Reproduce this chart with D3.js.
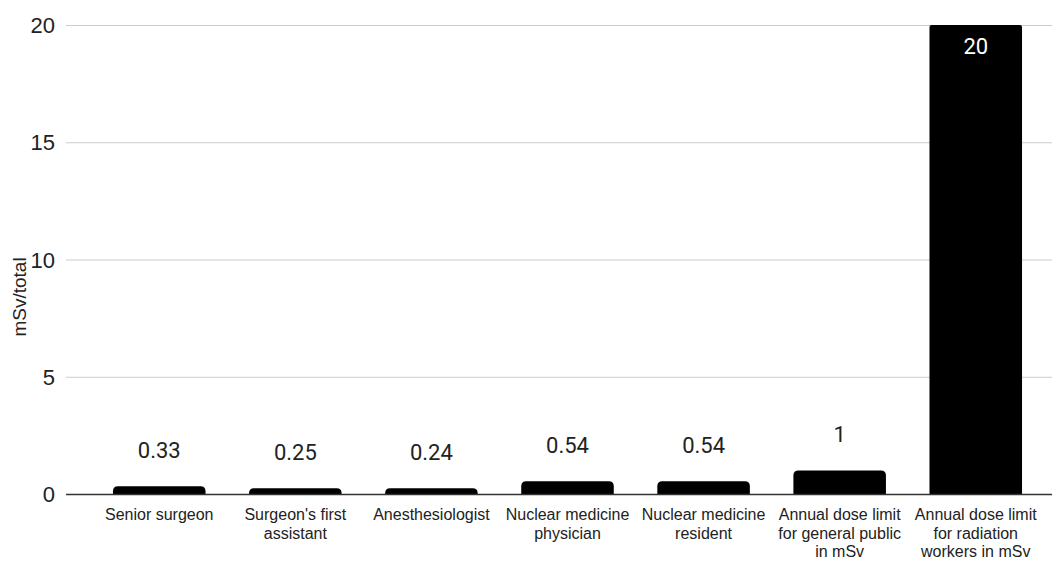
<!DOCTYPE html>
<html><head><meta charset="utf-8">
<script src="https://cdn.jsdelivr.net/npm/d3@7"></script>
<style>body{margin:0;background:#fff}svg{display:block}</style>
</head><body>
<script>
const categories = [
  ["Senior surgeon"],
  ["Surgeon's first", "assistant"],
  ["Anesthesiologist"],
  ["Nuclear medicine", "physician"],
  ["Nuclear medicine", "resident"],
  ["Annual dose limit", "for general public", "in mSv"],
  ["Annual dose limit", "for radiation", "workers in mSv"]
];
const values = [0.33, 0.25, 0.24, 0.54, 0.54, 1, 20];
const valueLabels = ["0.33", "0.25", "0.24", "0.54", "0.54", "1", "20"];
const yTicks = [0, 5, 10, 15, 20];
const yTitle = "mSv/total";

const W = 1052, H = 561;
const svg = d3.select("body").append("svg").attr("width", W).attr("height", H);

const y = d3.scaleLinear().domain([0, 20]).range([494, 25]);
const x = d3.scaleBand().domain(d3.range(categories.length))
  .range([91.2, 1043.8]).paddingInner(0.32).paddingOuter(0.16);

// gridlines
svg.append("g").selectAll("line").data(yTicks.filter(d => d !== 0)).join("line")
  .attr("x1", 66).attr("x2", 1052)
  .attr("y1", d => y(d) + 0.5).attr("y2", d => y(d) + 0.5)
  .attr("stroke", "#cccccc").attr("stroke-width", 1);

// tick labels
svg.append("g").selectAll("text").data(yTicks).join("text")
  .attr("x", 55).attr("y", d => y(d) + 8)
  .attr("text-anchor", "end")
  .attr("font-family", "Liberation Sans, Arial, sans-serif")
  .attr("font-size", 22).attr("fill", "#222")
  .text(d => d);

// y title
svg.append("text")
  .attr("transform", "translate(26,297) rotate(-90)")
  .attr("text-anchor", "middle")
  .attr("font-family", "Liberation Sans, Arial, sans-serif")
  .attr("font-size", 19).attr("fill", "#222")
  .text(yTitle);

// bars with rounded top corners
function barPath(x0, w, yTop, yBase, r) {
  r = Math.min(r, (yBase - yTop), w / 2);
  return `M${x0},${yBase}V${yTop + r}Q${x0},${yTop} ${x0 + r},${yTop}H${x0 + w - r}Q${x0 + w},${yTop} ${x0 + w},${yTop + r}V${yBase}Z`;
}
svg.append("g").selectAll("path").data(values).join("path")
  .attr("d", (d, i) => barPath(x(i), x.bandwidth(), y(d), y(0), d > 5 ? 2 : 5))
  .attr("fill", "#000");

// zero line
svg.append("line").attr("x1", 66).attr("x2", 1052)
  .attr("y1", y(0) + 0.5).attr("y2", y(0) + 0.5)
  .attr("stroke", "#333").attr("stroke-width", 1.3);

// data labels
svg.append("g").selectAll("text").data(values).join("text")
  .attr("x", (d, i) => x(i) + x.bandwidth() / 2)
  .attr("y", d => d > 5 ? y(d) + 29 : y(d) - 28.5)
  .attr("text-anchor", "middle")
  .attr("font-family", "Roboto, sans-serif")
  .attr("font-size", 22)
  .attr("fill", d => d > 5 ? "#fff" : "#222")
  .text((d, i) => valueLabels[i]);

// category labels
const cat = svg.append("g").selectAll("text").data(categories).join("text")
  .attr("text-anchor", "middle")
  .attr("font-family", "Liberation Sans, Arial, sans-serif")
  .attr("font-size", 16).attr("fill", "#222");
cat.each(function(lines, i) {
  const t = d3.select(this);
  lines.forEach((ln, j) => {
    t.append("tspan").attr("x", x(i) + x.bandwidth() / 2)
      .attr("y", 520 + j * 18.5).text(ln);
  });
});
</script>
</body></html>
